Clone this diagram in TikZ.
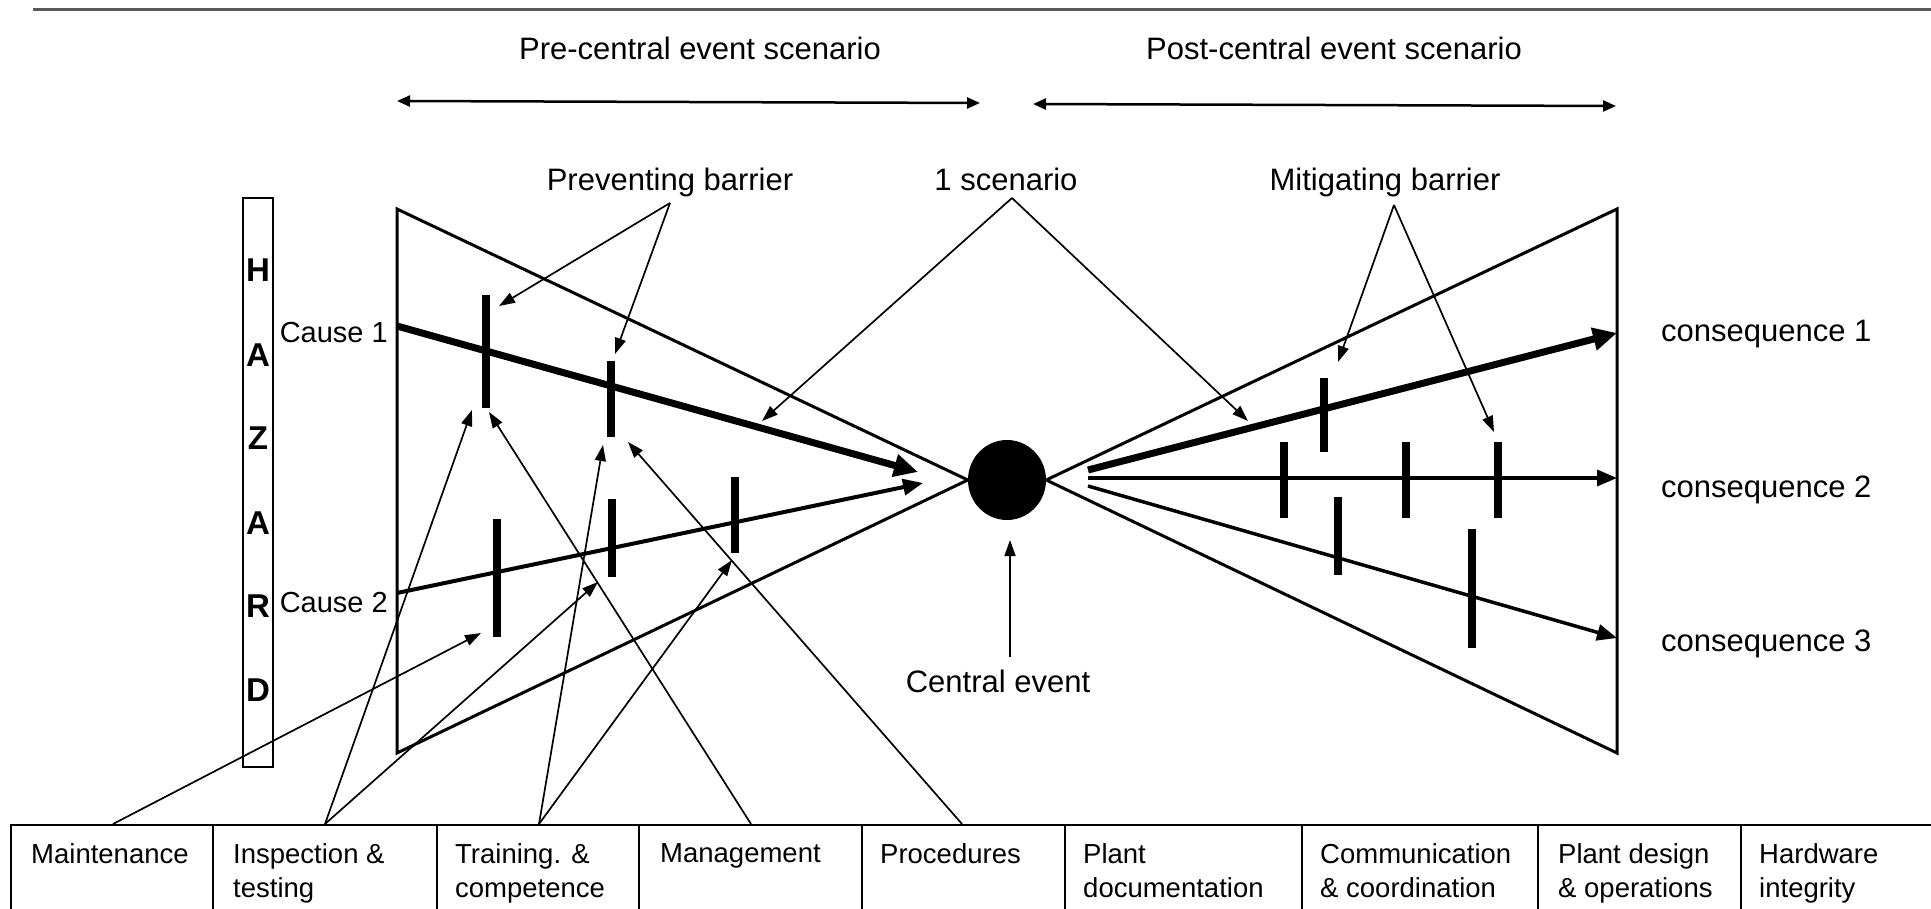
\documentclass[tikz,border=0pt]{standalone}
\usepackage{fontspec}
\setmainfont{Liberation Sans}
\usetikzlibrary{arrows.meta,calc,shapes.geometric}
\begin{document}
\begin{tikzpicture}[x=1pt,y=-1pt,
  lbl/.style={font=\fontsize{31}{36}\selectfont, inner sep=0pt},
  cl/.style={font=\fontsize{29}{34}\selectfont, inner sep=0pt},
  celltext/.style={font=\fontsize{27.5}{34}\selectfont, align=left, anchor=north west, inner sep=0pt},
  cell/.style={draw, line width=2pt, minimum height=120pt, anchor=north west, inner sep=0pt},
  hz/.style={font=\fontsize{33}{33}\selectfont\bfseries, inner sep=0pt},
  tri/.style={line width=3pt, line join=miter},
  barr/.style={line width=8pt},
  ann/.style={line width=1.7pt, -{Triangle[length=16pt,width=11pt]}},
  span/.style={line width=2.5pt, {Triangle[length=13pt,width=11pt]}-{Triangle[length=13pt,width=11pt]}},
  bigarrow/.style={line width=7pt, -{Triangle[length=24pt,width=22pt]}},
  midarrow/.style={line width=4pt, -{Triangle[length=20pt,width=16pt]}}
]
\useasboundingbox (0,0) rectangle (1931,909);
\clip (0,0) rectangle (1931,909);

% top rule
\coordinate (ruleL) at (33,10);
\coordinate (ruleR) at (1931,10);
\draw[line width=3pt, draw=black!65] (ruleL) -- (ruleR);

% headings
\node[lbl, anchor=base] (pre) at (700,60) {Pre-central event scenario};
\node[lbl, anchor=base] (post) at (1334,60) {Post-central event scenario};
\coordinate (preL) at (397,101);
\coordinate (preR) at (980,103);
\coordinate (postL) at (1033,104);
\coordinate (postR) at (1616,106);
\draw[span] (preL) -- (preR);
\draw[span] (postL) -- (postR);

% labels
\node[lbl, anchor=base] (prevb) at (670,191) {Preventing barrier};
\node[lbl, anchor=base] (scen) at (1006,191) {1 scenario};
\node[lbl, anchor=base] (mitb) at (1385,191) {Mitigating barrier};

% HAZARD
\node[draw, line width=2pt, minimum width=30pt, minimum height=569pt, inner sep=0pt] (hbox) at (258,482.5) {};
\node[hz] (hz1) at (258,270) {H};
\node[hz] (hz2) at (258,355) {A};
\node[hz] (hz3) at (258,438) {Z};
\node[hz] (hz4) at (258,523) {A};
\node[hz] (hz5) at (258,606) {R};
\node[hz] (hz6) at (258,690) {D};

% central event
\node[ellipse, fill=black, minimum width=78pt, minimum height=80pt, inner sep=0pt] (ce) at (1007,480) {};

% bow-tie triangles
\coordinate (LT) at (397,209);
\coordinate (LB) at (397,753);
\coordinate (RT) at (1617,209);
\coordinate (RB) at (1617,753);
\draw[tri] (ce.west) -- (LT) -- (LB) -- cycle;
\draw[tri] (ce.east) -- (RT) -- (RB) -- cycle;

% causes
\node[cl, anchor=base east] (cause1) at (388,343) {Cause 1};
\node[cl, anchor=base east] (cause2) at (388,612) {Cause 2};
\coordinate (c1s) at (397,326);
\coordinate (c1e) at (918,472);
\coordinate (c2s) at (397,593);
\coordinate (c2e) at (923,483);
\draw[bigarrow] (c1s) -- (c1e);
\draw[midarrow] (c2s) -- (c2e);

% consequences
\node[lbl, anchor=base west] (cons1) at (1661,342) {consequence 1};
\node[lbl, anchor=base west] (cons2) at (1661,497) {consequence 2};
\node[lbl, anchor=base west] (cons3) at (1661,651) {consequence 3};
\coordinate (k1s) at (1088,470);
\coordinate (k1e) at (1617,333);
\coordinate (k2s) at (1088,478);
\coordinate (k2e) at (1617,478);
\coordinate (k3s) at (1088,486);
\coordinate (k3e) at (1617,638);
\draw[bigarrow] (k1s) -- (k1e);
\draw[midarrow, line width=3.5pt] (k2s) -- (k2e);
\draw[midarrow, line width=3.5pt] (k3s) -- (k3e);

% preventing barriers
\coordinate (b1t) at (486,295); \coordinate (b1b) at (486,408);
\coordinate (b2t) at (611,361); \coordinate (b2b) at (611,437);
\coordinate (b3t) at (497,519); \coordinate (b3b) at (497,637);
\coordinate (b4t) at (612,499); \coordinate (b4b) at (612,577);
\coordinate (b5t) at (735,477); \coordinate (b5b) at (735,553);
\draw[barr] (b1t) -- (b1b);
\draw[barr] (b2t) -- (b2b);
\draw[barr] (b3t) -- (b3b);
\draw[barr] (b4t) -- (b4b);
\draw[barr] (b5t) -- (b5b);

% mitigating barriers
\coordinate (m1t) at (1324,378); \coordinate (m1b) at (1324,452);
\coordinate (m2t) at (1284,442); \coordinate (m2b) at (1284,518);
\coordinate (m3t) at (1406,442); \coordinate (m3b) at (1406,518);
\coordinate (m4t) at (1498,442); \coordinate (m4b) at (1498,518);
\coordinate (m5t) at (1338,497); \coordinate (m5b) at (1338,575);
\coordinate (m6t) at (1472,529); \coordinate (m6b) at (1472,648);
\draw[barr] (m1t) -- (m1b);
\draw[barr] (m2t) -- (m2b);
\draw[barr] (m3t) -- (m3b);
\draw[barr] (m4t) -- (m4b);
\draw[barr] (m5t) -- (m5b);
\draw[barr] (m6t) -- (m6b);

% central event label
\node[lbl, anchor=base] (cet) at (998,692) {Central event};
\coordinate (cetop) at (1010,657);
\coordinate (cetip) at (1010,540);
\draw[ann] (cetop) -- (cetip);

% annotation arrows
\coordinate (pbA) at (670,203);
\coordinate (pb1) at (499,306);
\coordinate (pb2) at (615,354);
\draw[ann] (pbA) -- (pb1);
\draw[ann] (pbA) -- (pb2);
\coordinate (scA) at (1012,198);
\coordinate (sc1) at (762,421);
\coordinate (sc2) at (1248,421);
\draw[ann] (scA) -- (sc1);
\draw[ann] (scA) -- (sc2);
\coordinate (mbA) at (1394,205);
\coordinate (mb1) at (1338,362);
\coordinate (mb2) at (1494,432);
\draw[ann] (mbA) -- (mb1);
\draw[ann] (mbA) -- (mb2);

% bottom row of factors
\node[cell, minimum width=202pt] (f1) at (10,824) {};
\node[cell, minimum width=224pt] (f2) at (212,824) {};
\node[cell, minimum width=202pt] (f3) at (436,824) {};
\node[cell, minimum width=223pt] (f4) at (638,824) {};
\node[cell, minimum width=203pt] (f5) at (861,824) {};
\node[cell, minimum width=237pt] (f6) at (1064,824) {};
\node[cell, minimum width=236pt] (f7) at (1301,824) {};
\node[cell, minimum width=203pt] (f8) at (1537,824) {};
\node[cell, minimum width=205pt] (f9) at (1740,824) {};
\node[celltext] (t1) at (31,843) {Maintenance};
\node[celltext] (t2) at (233,843) {Inspection \&\\testing};
\node[celltext] (t3) at (455,843) {Training. \&\\competence};
\node[celltext] (t4) at (660,843) {Management};
\node[celltext] (t5) at (880,843) {Procedures};
\node[celltext] (t6) at (1083,843) {Plant\\documentation};
\node[celltext] (t7) at (1320,843) {Communication\\\& coordination};
\node[celltext] (t8) at (1558,843) {Plant design\\\& operations};
\node[celltext] (t9) at (1759,843) {Hardware\\integrity};

% connectors from factors to barriers
\coordinate (pMa) at (113,824);
\coordinate (pIn) at (325,824);
\coordinate (pTr) at (539,824);
\coordinate (pMg) at (751,824);
\coordinate (pPr) at (962,824);
\coordinate (aMa) at (481,633);
\coordinate (aIn1) at (472,410);
\coordinate (aIn2) at (598,582);
\coordinate (aTr1) at (603,445);
\coordinate (aTr2) at (732,560);
\coordinate (aMg) at (489,412);
\coordinate (aPr) at (628,442);
\draw[ann] (pMa) -- (aMa);
\draw[ann] (pIn) -- (aIn1);
\draw[ann] (pIn) -- (aIn2);
\draw[ann] (pTr) -- (aTr1);
\draw[ann] (pTr) -- (aTr2);
\draw[ann] (pMg) -- (aMg);
\draw[ann] (pPr) -- (aPr);
\end{tikzpicture}
\end{document}
